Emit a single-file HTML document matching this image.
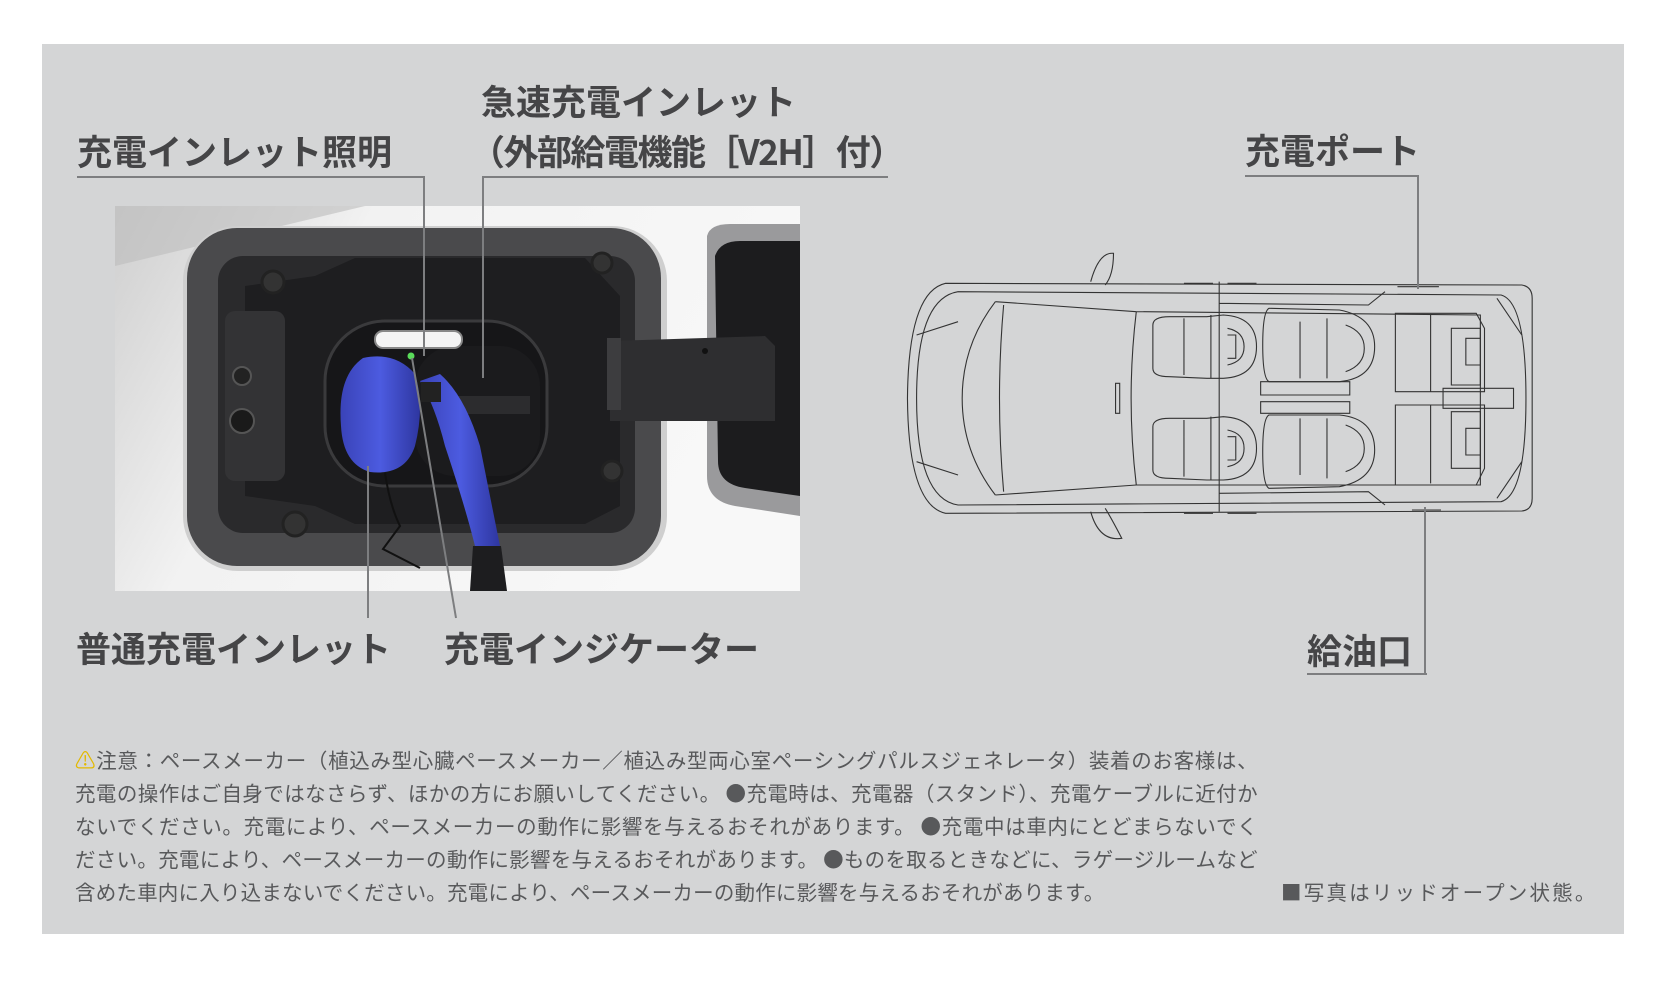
<!DOCTYPE html>
<html><head><meta charset="utf-8"><style>
html,body{margin:0;padding:0;background:#fff;width:1674px;height:984px;overflow:hidden}
body{position:relative;font-family:"Liberation Sans","Noto Sans CJK JP",sans-serif}
#panel{position:absolute;left:42px;top:44px;width:1582px;height:890px;background:#d4d5d6}
.lbl{position:absolute;font-weight:bold;color:#454547;font-size:35px;line-height:1;white-space:nowrap;font-family:"Noto Sans CJK JP",sans-serif;letter-spacing:0px}
.ln{position:absolute;background:#7d7e80}
.note{position:absolute;left:75px;width:1182px;font-size:20.5px;color:#58595b;white-space:nowrap;text-align:justify;text-align-last:justify;line-height:1;font-family:"Noto Sans CJK JP",sans-serif;letter-spacing:-0.6px}
</style></head><body>
<div id="panel"></div>

<!-- photo -->
<svg style="position:absolute;left:115px;top:206px" width="685" height="385" viewBox="0 0 685 385">
<defs>
<linearGradient id="bg" x1="0" y1="0" x2="1" y2="0.3"><stop offset="0" stop-color="#cfcfcf"/><stop offset="0.35" stop-color="#f2f2f2"/><stop offset="1" stop-color="#f8f8f8"/></linearGradient>
<linearGradient id="bl" x1="0" y1="0" x2="1" y2="0"><stop offset="0" stop-color="#3a43b8"/><stop offset="0.5" stop-color="#4c5be0"/><stop offset="1" stop-color="#2e36a0"/></linearGradient>
</defs>
<rect width="685" height="385" fill="url(#bg)"/>
<path d="M0 0 L250 0 L0 60Z" fill="#bdbdbd" opacity="0.6"/>
<rect x="68" y="20" width="484" height="345" rx="55" fill="#cfcfcf"/>
<rect x="72" y="22" width="474" height="338" rx="50" fill="#4a4a4c"/>
<rect x="103" y="50" width="417" height="277" rx="25" fill="#2a2a2c"/>
<path d="M130 80 L200 70 L240 52 L470 52 L505 90 L505 300 L470 318 L240 318 L200 300 L130 290Z" fill="#1e1e20"/>
<rect x="110" y="105" width="60" height="170" rx="10" fill="#333335"/>
<circle cx="127" cy="170" r="9" fill="#222" stroke="#555" stroke-width="2"/>
<circle cx="127" cy="215" r="12" fill="#1a1a1a" stroke="#555" stroke-width="2"/>
<circle cx="158" cy="76" r="11" fill="#333" stroke="#222" stroke-width="3"/>
<circle cx="487" cy="57" r="10" fill="#333" stroke="#222" stroke-width="3"/>
<circle cx="497" cy="265" r="10" fill="#333" stroke="#222" stroke-width="3"/>
<circle cx="180" cy="318" r="12" fill="#333" stroke="#222" stroke-width="3"/>
<rect x="210" y="115" width="222" height="165" rx="60" fill="#161618" stroke="#3a3a3c" stroke-width="3"/>
<rect x="300" y="140" width="125" height="130" rx="40" fill="#1b1b1d"/>
<rect x="340" y="190" width="75" height="18" fill="#2c2c2e"/>
<rect x="260" y="125" width="87" height="17" rx="8" fill="#f4f4f4" stroke="#888" stroke-width="2"/>
<circle cx="296" cy="150" r="3.5" fill="#5adc5a"/>
<!-- lid door -->
<path d="M592 30 Q595 18 615 18 L685 18 L685 310 L620 300 Q592 295 592 270Z" fill="#9a9a9c"/>
<path d="M600 50 Q605 35 625 35 L685 35 L685 290 L630 282 Q603 278 603 255Z" fill="#1c1c1e"/>
<!-- arm -->
<path d="M495 135 L650 130 L660 140 L660 215 L495 215Z" fill="#2e2e30"/>
<rect x="492" y="132" width="14" height="72" fill="#3d3d3f"/>
<circle cx="590" cy="145" r="3" fill="#111"/>
<!-- plug -->
<path d="M305 175 Q320 200 330 240 Q350 300 360 340 L385 340 Q375 290 365 240 Q350 190 325 168Z" fill="url(#bl)"/>
<path d="M248 152 Q280 145 300 168 Q310 200 300 240 Q290 270 255 266 Q228 258 226 220 Q222 170 248 152Z" fill="url(#bl)"/>
<rect x="306" y="176" width="20" height="20" fill="#222"/>
<path d="M358 340 L386 340 L392 385 L355 385Z" fill="#1d1d1f"/>
<path d="M270 267 Q275 300 285 320 L268 343 L305 362" fill="none" stroke="#111" stroke-width="2"/>
</svg>

<!-- car -->
<svg style="position:absolute;left:900px;top:245px" width="650" height="305" viewBox="0 0 1568 915" preserveAspectRatio="none">
<g fill="none" stroke="#333" stroke-width="1.1">
<path vector-effect="non-scaling-stroke" d="M110 115 L1500 120 Q1525 125 1525 160 L1525 760 Q1525 795 1500 798 L110 805 Q20 780 18 460 Q20 140 110 115Z"/>
<path vector-effect="non-scaling-stroke" d="M140 140 L1450 150 Q1510 170 1510 460 Q1510 750 1450 770 L140 780 Q40 760 40 460 Q40 160 140 140Z"/>
<path vector-effect="non-scaling-stroke" d="M230 170 Q150 300 150 460 Q150 620 230 750"/>
<path vector-effect="non-scaling-stroke" d="M230 170 L570 200 L1400 210 L1400 720 L570 720 L230 750"/>
<path vector-effect="non-scaling-stroke" d="M570 200 Q545 460 570 720"/>
<path vector-effect="non-scaling-stroke" d="M250 180 Q230 460 250 740"/>
<path vector-effect="non-scaling-stroke" d="M770 110 L770 800 M770 175 L1130 180 L1170 140 M770 745 L1130 740 L1170 780"/>
<path vector-effect="non-scaling-stroke" d="M460 110 Q480 20 515 25 Q515 90 495 120 M460 800 Q480 890 535 880 Q510 820 495 790"/>
<path vector-effect="non-scaling-stroke" d="M40 270 L140 230 M40 650 L140 690 M1440 160 L1500 270 M1440 760 L1500 650"/>
<path vector-effect="non-scaling-stroke" d="M1200 125 L1300 125 M1235 795 L1305 795 M685 115 L755 115 M790 115 L860 115 M685 805 L755 805 M790 805 L860 805"/>
<path vector-effect="non-scaling-stroke" d="M520 415 L530 415 L530 505 L520 505Z"/>
<g id="s1">
<path vector-effect="non-scaling-stroke" d="M610 240 Q610 215 650 215 L740 215 L780 210 Q860 215 860 305 Q860 395 780 400 L740 400 L650 395 Q610 395 610 370Z"/>
<path vector-effect="non-scaling-stroke" d="M685 220 L685 390 M750 210 L750 400 M790 250 Q830 260 830 305 Q830 350 790 360 M790 270 L810 270 L810 340 L790 340"/>
</g>
<use href="#s1" transform="translate(0,305)"/>
<g id="s2">
<path vector-effect="non-scaling-stroke" d="M890 190 L1060 195 Q1145 215 1145 305 Q1145 400 1060 410 L890 410 Q875 400 875 300 Q875 200 890 190Z"/>
<path vector-effect="non-scaling-stroke" d="M965 230 L965 400 M1030 220 L1030 400 M1075 240 Q1120 260 1120 310 Q1120 360 1075 380 M870 410 L1085 410 L1085 450 L870 450Z"/>
</g>
<path vector-effect="non-scaling-stroke" d="M890 730 L1060 725 Q1145 705 1145 615 Q1145 520 1060 510 L890 510 Q875 520 875 620 Q875 720 890 730Z M965 690 L965 520 M1030 700 L1030 520 M1075 680 Q1120 660 1120 610 Q1120 560 1075 540 M870 470 L1085 470 L1085 505 L870 505Z"/>
<path vector-effect="non-scaling-stroke" d="M1195 205 L1390 205 L1410 250 L1410 440 L1195 440Z M1195 480 L1410 480 L1410 670 L1390 720 L1195 720Z M1280 210 L1280 440 M1280 480 L1280 715 M1330 250 L1400 250 L1400 420 L1330 420Z M1330 500 L1400 500 L1400 670 L1330 670Z M1365 280 L1400 280 L1400 360 L1365 360Z M1365 550 L1400 550 L1400 630 L1365 630Z M1310 430 L1480 430 L1480 490 L1310 490Z"/>
</g>
</svg>

<!-- labels -->
<div class="lbl" style="left:77px;top:133px">充電インレット照明</div>
<div class="ln" style="left:77px;top:176px;width:348px;height:2px"></div>
<div class="ln" style="left:423px;top:176px;width:2px;height:180px"></div>

<div class="lbl" style="left:481px;top:83px">急速充電インレット</div>
<div class="lbl" style="left:470px;top:133px;letter-spacing:-1.5px">（外部給電機能［V2H］付）</div>
<div class="ln" style="left:483px;top:176px;width:405px;height:2px"></div>
<div class="ln" style="left:482px;top:176px;width:2px;height:202px"></div>

<div class="lbl" style="left:76px;top:630px">普通充電インレット</div>
<div class="ln" style="left:367px;top:466px;width:2px;height:152px"></div>
<div class="lbl" style="left:444px;top:630px">充電インジケーター</div>
<svg style="position:absolute;left:0;top:0" width="1674" height="984"><line x1="412" y1="358" x2="456" y2="618" stroke="#7d7e80" stroke-width="2"/></svg>

<div class="lbl" style="left:1245px;top:132px">充電ポート</div>
<div class="ln" style="left:1245px;top:175px;width:174px;height:2px"></div>
<div class="ln" style="left:1417px;top:175px;width:2px;height:114px"></div>
<div class="lbl" style="left:1307px;top:632px">給油口</div>
<div class="ln" style="left:1307px;top:673px;width:120px;height:2px"></div>
<div class="ln" style="left:1424px;top:507px;width:2px;height:168px"></div>

<!-- notes -->
<div class="note" style="top:749px"><span style="color:#e3b900">⚠</span>注意：ペースメーカー（植込み型心臓ペースメーカー／植込み型両心室ペーシングパルスジェネレータ）装着のお客様は、</div>
<div class="note" style="top:782px">充電の操作はご自身ではなさらず、ほかの方にお願いしてください。 ●充電時は、充電器（スタンド）、充電ケーブルに近付か</div>
<div class="note" style="top:815px">ないでください。充電により、ペースメーカーの動作に影響を与えるおそれがあります。 ●充電中は車内にとどまらないでく</div>
<div class="note" style="top:848px">ださい。充電により、ペースメーカーの動作に影響を与えるおそれがあります。 ●ものを取るときなどに、ラゲージルームなど</div>
<div class="note" style="top:881px;text-align-last:left;width:auto;letter-spacing:0.2px">含めた車内に入り込まないでください。充電により、ペースメーカーの動作に影響を与えるおそれがあります。</div>
<div class="note" style="top:881px;left:1281px;width:auto;text-align-last:left;letter-spacing:2.2px">■写真はリッドオープン状態。</div>
</body></html>
